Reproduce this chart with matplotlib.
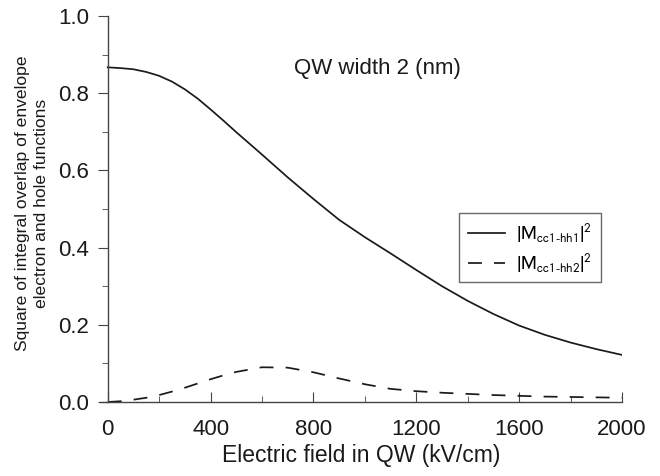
"""Square of envelope overlap vs electric field for a 2 nm QW."""

import matplotlib
matplotlib.use("Agg")
import matplotlib.pyplot as plt
from matplotlib.font_manager import FontProperties
from matplotlib.ticker import MultipleLocator

plt.rcParams["font.family"] = ["Liberation Sans", "DejaVu Sans"]
plt.rcParams["mathtext.fontset"] = "custom"
plt.rcParams["mathtext.rm"] = "Liberation Sans"
plt.rcParams["mathtext.it"] = "Liberation Sans:italic"

# electric field (kV/cm)
field = [0, 50, 100, 150, 200, 250, 300, 350, 400, 450, 500, 600, 700,
         800, 900, 1000, 1100, 1200, 1300, 1400, 1500, 1600, 1700, 1800,
         1900, 2000]
# |M_cc1-hh1|^2
m_hh1 = [0.867, 0.865, 0.862, 0.855, 0.845, 0.830, 0.810, 0.786, 0.758,
         0.729, 0.699, 0.641, 0.582, 0.526, 0.472, 0.427, 0.385, 0.342,
         0.300, 0.262, 0.228, 0.198, 0.174, 0.154, 0.137, 0.122]
# |M_cc1-hh2|^2
m_hh2 = [0.0, 0.002, 0.006, 0.011, 0.018, 0.027, 0.037, 0.048, 0.059,
         0.069, 0.078, 0.090, 0.089, 0.077, 0.061, 0.046, 0.034, 0.028,
         0.024, 0.021, 0.018, 0.016, 0.014, 0.013, 0.012, 0.011]

fig = plt.figure(figsize=(6.6, 4.76), dpi=100)
ax = fig.add_axes([100 / 660, 1 - 402 / 476, 522 / 660, 386 / 476])

ax.plot(field, m_hh1, color="#1a1a1a", lw=1.25,
        label=r"$\left|\mathrm{M}_{\mathrm{cc1\text{-}hh1}}\right|^{2}$")
ax.plot(field, m_hh2, color="#1a1a1a", lw=1.25, dashes=(8, 7),
        label=r"$\left|\mathrm{M}_{\mathrm{cc1\text{-}hh2}}\right|^{2}$")

ax.set_xlim(-30, 2000)
ax.set_ylim(0, 1.0)
ax.spines["left"].set_position(("data", 0))
ax.spines["top"].set_visible(False)
ax.spines["right"].set_visible(False)
for s in ("left", "bottom"):
    ax.spines[s].set_color("#444444")
    ax.spines[s].set_linewidth(1.0)

ax.set_xticks([0, 400, 800, 1200, 1600, 2000])
ax.xaxis.set_minor_locator(MultipleLocator(200))
ax.yaxis.set_major_locator(MultipleLocator(0.2))
ax.yaxis.set_minor_locator(MultipleLocator(0.1))
ax.yaxis.set_major_formatter(plt.FormatStrFormatter("%.1f"))
ax.tick_params(axis="x", which="both", direction="in", colors="#444444",
               labelcolor="#1a1a1a", labelsize=16, pad=12)
ax.tick_params(axis="x", which="major", length=7)
ax.tick_params(axis="x", which="minor", length=4)
ax.tick_params(axis="y", which="both", direction="out", colors="#444444",
               labelcolor="#1a1a1a", labelsize=16, pad=6.5)
ax.tick_params(axis="y", which="major", length=7)
ax.tick_params(axis="y", which="minor", length=4)

ax.set_xlabel("Electric field in QW (kV/cm)", fontsize=16.5, color="#1a1a1a",
              labelpad=3)
fig.text(32 / 660, 1 - 203 / 476,
         "Square of integral overlap of envelope\nelectron and hole functions",
         rotation=90, ha="center", va="center", fontsize=12.6,
         color="#1a1a1a", linespacing=1.35)

ax.text(725, 0.865, "QW width 2 (nm)", fontsize=16, color="#1a1a1a",
        ha="left", va="center")

leg_font = FontProperties(family="Liberation Sans", size=13.5,
                          math_fontfamily="stixsans")
leg = ax.legend(loc="upper left", bbox_to_anchor=(0.688, 0.49),
                prop=leg_font, frameon=True, fancybox=False,
                edgecolor="#444444", handlelength=2.0, borderpad=0.45,
                labelspacing=0.35, handletextpad=0.6, borderaxespad=0)
leg.get_frame().set_linewidth(1.0)

fig.savefig("out.png", dpi=100)
plt.close(fig)
